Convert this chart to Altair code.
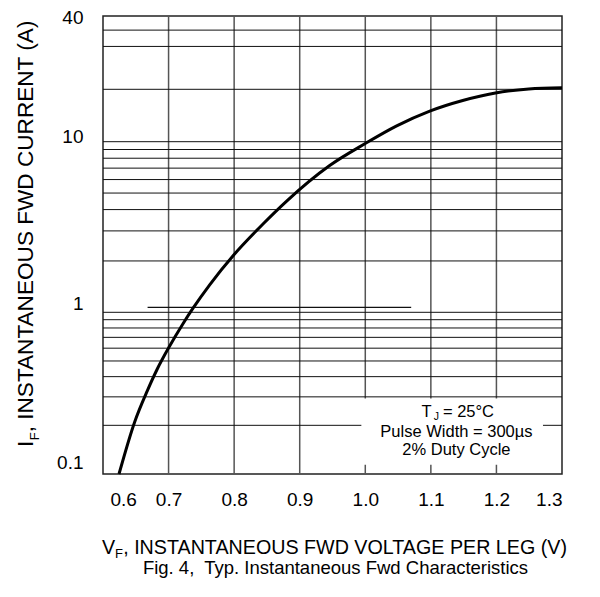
import altair as alt
import pandas as pd

FONT = "Liberation Sans"

# Curve: forward voltage (V) vs forward current (A)
vf = [0.6244, 0.6483, 0.6677, 0.6824, 0.7017, 0.722, 0.7373, 0.7627, 0.800, 0.844,
      0.8797, 0.9457, 1.000, 1.0479, 1.0983, 1.1486, 1.1985, 1.2493, 1.300]
i_f = [0.100, 0.210, 0.328, 0.443, 0.619, 0.850, 1.057, 1.449, 2.182, 3.293,
       4.473, 7.25, 9.76, 12.33, 14.99, 17.25, 19.05, 20.06, 20.3]

x_ticks = [0.6, 0.7, 0.8, 0.9, 1.0, 1.1, 1.2, 1.3]
y_ticks = [0.1, 1, 10, 40]
v_grid = [0.7, 0.8, 0.9, 1.0, 1.1, 1.2]
h_grid = [0.2, 0.3, 0.4, 0.5, 0.6, 0.7, 0.8, 0.9,
          1, 2, 3, 4, 5, 6, 7, 8, 9, 10, 20, 30, 35]
# short extra rule drawn on the datasheet just above 1 A
partial_rule = {"x1": 0.668, "x2": 1.07, "y": 1.07}

# the datasheet's log axis is drawn with uneven decades: piecewise log scale
y_domain = [0.1, 1, 10, 20, 40]
y_range = [458, 296.3, 125.7, 73.3, 0]

# annotation box (data units)
box_x = [0.994, 1.271]
box_y = [0.114, 0.293]
note_x = 1.139
note_y = [0.2240, 0.1703, 0.1311]
note_lines = ["Pulse Width = 300µs", "2% Duty Cycle"]
tj_parts = ["T", "J", "= 25°C"]

y_title_parts = ["I", "F", ", INSTANTANEOUS FWD CURRENT (A)"]
x_title_parts = ["V", "F", ", INSTANTANEOUS FWD VOLTAGE PER LEG (V)"]
caption = "Fig. 4,\u00a0 Typ. Instantaneous Fwd Characteristics"

W, H = 459, 458

xs = alt.Scale(domain=[0.6, 1.3], nice=False, zero=False)
ys = alt.Scale(type="log", domain=y_domain, range=y_range, nice=False)

X_AX = alt.Axis(values=x_ticks, format=".1f", title=None, labelPadding=16,
                labelOffset={"condition": {"test": "datum.value <= 0.6", "value": 7},
                             "value": 0})
Y_AX = alt.Axis(values=y_ticks, format="~g", title=None, labelPadding=20,
                labelOffset={"condition": [
                    {"test": "datum.value <= 0.1", "value": -12},
                    {"test": "datum.value == 1", "value": -9},
                    {"test": "datum.value == 10", "value": -5},
                    {"test": "datum.value >= 40", "value": 1}],
                    "value": 0})

one = alt.Data(values=[{"a": 1}])

vgrid = alt.Chart(pd.DataFrame({"v": v_grid})).mark_rule(
    color="#555555", strokeWidth=1.5
).encode(x=alt.X("v:Q", scale=xs, axis=X_AX))

hgrid = alt.Chart(pd.DataFrame({"i": h_grid})).mark_rule(
    color="#111111", strokeWidth=1
).encode(y=alt.Y("i:Q", scale=ys, axis=Y_AX))

extra = alt.Chart(pd.DataFrame([partial_rule])).mark_rule(
    color="#111111", strokeWidth=1.3
).encode(x=alt.X("x1:Q", scale=xs, axis=X_AX), x2="x2:Q",
         y=alt.Y("y:Q", scale=ys, axis=Y_AX))

box = alt.Chart(pd.DataFrame({"x1": [box_x[0]], "x2": [box_x[1]],
                              "y1": [box_y[0]], "y2": [box_y[1]]})).mark_rect(
    color="white"
).encode(x=alt.X("x1:Q", scale=xs, axis=X_AX), x2="x2:Q",
         y=alt.Y("y1:Q", scale=ys, axis=Y_AX), y2="y2:Q")

notes = alt.Chart(pd.DataFrame({"x": [note_x, note_x], "y": note_y[1:],
                                "t": note_lines})).mark_text(
    font=FONT, fontSize=16.5, color="black", align="center", baseline="alphabetic"
).encode(x=alt.X("x:Q", scale=xs, axis=X_AX),
         y=alt.Y("y:Q", scale=ys, axis=Y_AX), text="t:N")

tj_df = pd.DataFrame({"x": [note_x], "y": [note_y[0]]})
tj_layers = []
for txt, dx, dy, fs in [(tj_parts[0], -35, 0, 16.5), (tj_parts[1], -22.8, 3, 10.5),
                        (tj_parts[2], -13.5, 0, 16.5)]:
    tj_layers.append(alt.Chart(tj_df).mark_text(
        text=txt, font=FONT, fontSize=fs, color="black", align="left",
        baseline="alphabetic", dx=dx, dy=dy
    ).encode(x=alt.X("x:Q", scale=xs, axis=X_AX),
             y=alt.Y("y:Q", scale=ys, axis=Y_AX)))

curve = alt.Chart(pd.DataFrame({"V": vf, "I": i_f})).mark_line(
    color="black", strokeWidth=3, interpolate="monotone"
).encode(
    x=alt.X("V:Q", scale=xs, axis=X_AX),
    y=alt.Y("I:Q", scale=ys, axis=Y_AX),
)

# y axis title (rotated, with subscript)
ytitle_layers = []
for txt, dx, dy, fs in [(y_title_parts[0], 0, 0, 22.6), (y_title_parts[1], 6.8, 6, 13),
                        (y_title_parts[2], 14.7, 0, 22.6)]:
    ytitle_layers.append(alt.Chart(one).mark_text(
        text=txt, font=FONT, fontSize=fs, color="black", align="left",
        baseline="alphabetic", angle=270, dx=dx, dy=dy
    ).encode(x=alt.value(-69.7), y=alt.value(431)))

xtitle_layers = []
for txt, dx, dy, fs in [(x_title_parts[0], 0, 0, 19.7), (x_title_parts[1], 13.1, 3.5, 13),
                        (x_title_parts[2], 21.2, 0, 19.7)]:
    xtitle_layers.append(alt.Chart(one).mark_text(
        text=txt, font=FONT, fontSize=fs, color="black", align="left",
        baseline="alphabetic", dx=dx, dy=dy
    ).encode(x=alt.value(-1), y=alt.value(538)))

cap = alt.Chart(one).mark_text(
    text=caption, font=FONT, fontSize=18.5, color="black", align="center",
    baseline="alphabetic"
).encode(x=alt.value(232.5), y=alt.value(558.3))

chart = alt.layer(
    vgrid, hgrid, extra, box, notes, *tj_layers, curve,
    *ytitle_layers, *xtitle_layers, cap
).properties(
    width=W, height=H,
    autosize=alt.AutoSizeParams(type="none"),
    padding={"left": 95, "top": 8, "right": 30, "bottom": 110},
    background="white",
).configure_view(
    stroke="#222222", strokeWidth=1.5
).configure_axis(
    labelFont=FONT, labelFontSize=19, labelColor="black",
    ticks=False, domain=False, grid=False
)

chart.save("out.html", embed_options={"renderer": "svg", "actions": False})
